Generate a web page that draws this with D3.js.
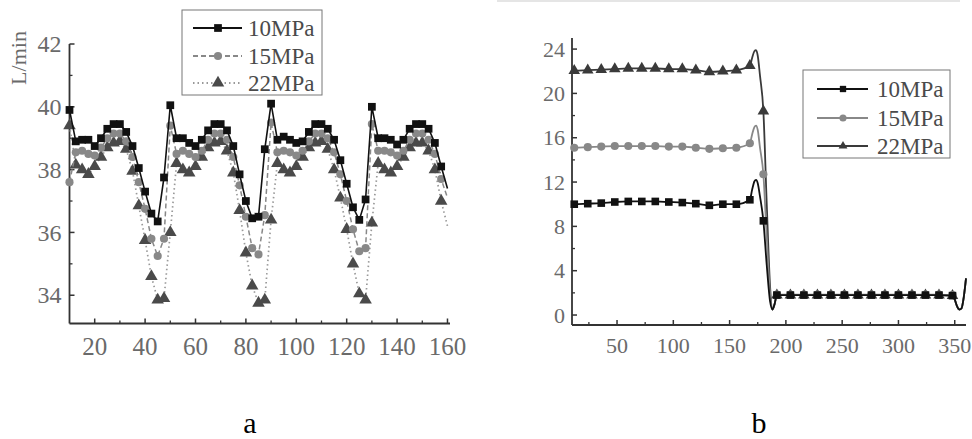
<!DOCTYPE html>
<html>
<head>
<meta charset="utf-8">
<script src="https://cdn.jsdelivr.net/npm/d3@7"></script>
<style>
  body { margin: 0; background: #fff; }
  svg { display: block; }
  text { font-family: "Liberation Serif", "Times New Roman", serif; }
</style>
</head>
<body>
<svg id="fig" width="972" height="439"></svg>
<script>
// ---------- data ----------
const seriesNames = ["10MPa", "15MPa", "22MPa"];

// Panel a: flow rate (L/min), sampled every 2.5 time units from 10 to 160
const timeA = d3.range(10, 160.01, 2.5);
const flowA10 = [
  39.9, 38.9, 38.95, 38.95, 38.75, 39.0, 39.3, 39.45, 39.45, 39.2, 38.75, 38.05, 37.3, 36.6, 36.35, 37.75, 40.05,
  39.0, 39.0, 38.85, 38.75, 38.95, 39.25, 39.45, 39.45, 39.25, 38.75, 37.85, 37.0, 36.45, 36.5, 38.65, 40.1,
  38.95, 39.05, 38.95, 38.85, 38.9, 39.2, 39.45, 39.45, 39.3, 38.95, 38.3, 37.55, 36.8, 36.4, 37.05, 40.0,
  39.0, 39.0, 38.95, 38.8, 38.95, 39.3, 39.45, 39.45, 39.3, 38.85, 38.1, 37.4
];
const flowA15 = [
  37.6, 38.55, 38.6, 38.5, 38.45, 38.7, 39.0, 39.15, 39.15, 38.9, 38.4, 37.6, 36.75, 35.8, 35.25, 35.8, 39.4,
  38.5, 38.6, 38.5, 38.4, 38.6, 38.95, 39.15, 39.15, 38.95, 38.4, 37.5, 36.5, 35.5, 35.3, 36.55, 39.5,
  38.55, 38.6, 38.55, 38.45, 38.6, 38.9, 39.15, 39.15, 39.0, 38.55, 37.85, 37.0, 36.1, 35.4, 35.5, 39.45,
  38.6, 38.6, 38.55, 38.45, 38.6, 38.95, 39.15, 39.15, 38.95, 38.5, 37.7, 37.1
];
const flowA22 = [
  39.4, 38.15, 38.0, 37.85, 38.1, 38.4, 38.7, 38.85, 38.9, 38.65, 37.95, 36.85, 35.75, 34.6, 33.85, 33.9, 36.0,
  38.2, 38.0, 37.9, 38.1, 38.4, 38.7, 38.85, 38.9, 38.6, 37.9, 36.7, 35.35, 34.3, 33.75, 33.85, 36.4,
  38.2, 38.0, 37.9, 38.1, 38.4, 38.7, 38.85, 38.9, 38.65, 38.0, 37.1, 36.1, 35.0, 34.05, 33.85, 36.3,
  38.2, 38.0, 37.9, 38.1, 38.4, 38.7, 38.85, 38.85, 38.6, 38.0, 37.0, 36.2
];
const yTicksA = [34, 36, 38, 40, 42];
const xTicksA = [20, 40, 60, 80, 100, 120, 140, 160];

// Panel b: output level, markers every 12 time units
const timeB = d3.range(12, 348.01, 12);
const levelB10 = [
  10.0, 10.05, 10.1, 10.2, 10.25, 10.25, 10.25, 10.2, 10.15, 10.05, 9.9, 10.0, 10.0, 10.4, 8.5,
  1.8, 1.8, 1.8, 1.8, 1.8, 1.8, 1.8, 1.8, 1.8, 1.8, 1.8, 1.8, 1.8, 1.75
];
const levelB15 = [
  15.1, 15.15, 15.2, 15.25, 15.25, 15.25, 15.25, 15.2, 15.2, 15.1, 15.0, 15.05, 15.1, 15.5, 12.7,
  1.85, 1.85, 1.85, 1.85, 1.85, 1.85, 1.85, 1.85, 1.85, 1.85, 1.85, 1.85, 1.85, 1.8
];
const levelB22 = [
  22.05, 22.1, 22.15, 22.2, 22.25, 22.25, 22.25, 22.2, 22.2, 22.1, 21.95, 22.0, 22.1, 22.5, 18.4,
  1.8, 1.8, 1.8, 1.8, 1.8, 1.8, 1.8, 1.8, 1.8, 1.8, 1.8, 1.8, 1.8, 1.75
];
// transient points of the continuous response between the markers [time, value]
const curveB10 = [[10, 10.0], [170, 11.3], [172, 12.05], [173.5, 12.2], [175, 11.9], [177, 10.7],
  [183, 4.5], [186, 1.2], [188, 0.5], [190, 1.0], [350, 1.4], [352, 0.8], [354, 0.5], [356, 0.6], [358, 1.6], [360, 3.3]];
const curveB15 = [[10, 15.05], [170, 16.3], [172, 16.95], [173.5, 17.1], [175, 16.7], [177, 15.1],
  [183, 7.0], [186, 1.8], [188, 0.55], [190, 1.0], [350, 1.4], [352, 0.8], [354, 0.5], [356, 0.6], [358, 1.6], [360, 3.3]];
const curveB22 = [[10, 22.0], [170, 23.2], [172, 23.8], [173.5, 23.9], [175, 23.4], [177, 21.6],
  [183, 10.0], [186, 2.5], [188, 0.5], [190, 1.0], [350, 1.4], [352, 0.8], [354, 0.5], [356, 0.6], [358, 1.6], [360, 3.3]];
const yTicksB = [0, 4, 8, 12, 16, 20, 24];
const xTicksB = [50, 100, 150, 200, 250, 300, 350];

// ---------- drawing ----------
const svg = d3.select("#fig");
const axisColor = "#333";
const labelColor = "#6a6a6a";

function drawAxes(g, x, y, xMajor, xMinor, yMajor, yMinor, fontX, fontY, xLabelY, yLabelGap) {
  const [x0, x1] = x.range();
  const [yb, yt] = y.range();
  g.append("line").attr("x1", x0).attr("x2", x0).attr("y1", yt).attr("y2", yb)
    .attr("stroke", axisColor).attr("stroke-width", 1.8);
  g.append("line").attr("x1", x0).attr("x2", x1).attr("y1", yb).attr("y2", yb)
    .attr("stroke", axisColor).attr("stroke-width", 1.8);
  // inward ticks
  g.selectAll(null).data(xMajor).join("line")
    .attr("x1", d => x(d)).attr("x2", d => x(d)).attr("y1", yb).attr("y2", yb - 5)
    .attr("stroke", axisColor).attr("stroke-width", 1.5);
  g.selectAll(null).data(xMinor).join("line")
    .attr("x1", d => x(d)).attr("x2", d => x(d)).attr("y1", yb).attr("y2", yb - 3)
    .attr("stroke", axisColor).attr("stroke-width", 1.3);
  g.selectAll(null).data(yMajor).join("line")
    .attr("x1", x0).attr("x2", x0 + 5).attr("y1", d => y(d)).attr("y2", d => y(d))
    .attr("stroke", axisColor).attr("stroke-width", 1.5);
  g.selectAll(null).data(yMinor).join("line")
    .attr("x1", x0).attr("x2", x0 + 3).attr("y1", d => y(d)).attr("y2", d => y(d))
    .attr("stroke", axisColor).attr("stroke-width", 1.3);
  g.selectAll(null).data(xMajor).join("text")
    .attr("x", d => x(d)).attr("y", xLabelY)
    .attr("text-anchor", "middle").attr("font-size", fontX).attr("fill", labelColor)
    .text(d => d);
  g.selectAll(null).data(yMajor).join("text")
    .attr("x", x0 - yLabelGap).attr("y", d => y(d)).attr("dy", "0.34em")
    .attr("text-anchor", "end").attr("font-size", fontY).attr("fill", labelColor)
    .text(d => d);
}

function drawMarker(g, type, cx, cy, fill, size) {
  const sym = { sq: d3.symbolSquare, ci: d3.symbolCircle, tr: d3.symbolTriangle }[type];
  g.append("path")
    .attr("d", d3.symbol(sym, size)())
    .attr("transform", `translate(${cx},${cy})`)
    .attr("fill", fill);
}

// ===== Panel a =====
const xA = d3.scaleLinear().domain([10, 161]).range([69.5, 450]);
const yA = d3.scaleLinear().domain([33.1, 42]).range([323.5, 44]);
const gA = svg.append("g");

drawAxes(gA, xA, yA, xTicksA, d3.range(30, 151, 20), yTicksA, [35, 37, 39, 41], 25, 24, 355, 8);

gA.append("text")
  .attr("transform", `translate(19,58) rotate(-90)`)
  .attr("text-anchor", "middle").attr("dy", "0.34em")
  .attr("font-size", 22).attr("fill", labelColor).text("L/min");

const styleA = [
  { values: flowA10, stroke: "#111", dash: null, width: 1.6, mark: "sq", fill: "#111", size: 60 },
  { values: flowA15, stroke: "#888", dash: "5,3", width: 1.5, mark: "ci", fill: "#888", size: 52 },
  { values: flowA22, stroke: "#999", dash: "1.5,3", width: 1.7, mark: "tr", fill: "#4a4a4a", size: 68 }
];
const lineA = d3.line().x(d => xA(d[0])).y(d => yA(d[1]));

[2, 1, 0].forEach(i => {
  const s = styleA[i];
  const pts = timeA.map((t, k) => [t, s.values[k]]);
  gA.append("path").datum(pts).attr("d", lineA)
    .attr("fill", "none").attr("stroke", s.stroke).attr("stroke-width", s.width)
    .attr("stroke-dasharray", s.dash);
  pts.slice(0, -1).forEach(p => drawMarker(gA, s.mark, xA(p[0]), yA(p[1]), s.fill, s.size));
});

// legend a
const legA = gA.append("g");
legA.append("rect").attr("x", 182).attr("y", 10).attr("width", 140).attr("height", 85)
  .attr("fill", "#fff").attr("stroke", "#777").attr("stroke-width", 1);
const legAy = [28, 56, 83];
styleA.forEach((s, i) => {
  legA.append("line").attr("x1", 193).attr("x2", 242).attr("y1", legAy[i]).attr("y2", legAy[i])
    .attr("stroke", s.stroke).attr("stroke-width", s.width + 0.4).attr("stroke-dasharray", s.dash);
  drawMarker(legA, s.mark, 218, legAy[i], s.fill, s.size);
  legA.append("text").attr("x", 248).attr("y", legAy[i]).attr("dy", "0.34em")
    .attr("font-size", 23).attr("fill", "#4a4a4a").text(seriesNames[i]);
});

// ===== Panel b =====
svg.append("line").attr("x1", 497).attr("x2", 960).attr("y1", 1).attr("y2", 1)
  .attr("stroke", "#ddd").attr("stroke-width", 1.5);

const xB = d3.scaleLinear().domain([10, 360]).range([572, 966]);
const yB = d3.scaleLinear().domain([-0.9, 25]).range([325, 38]);
const gB = svg.append("g");

drawAxes(gB, xB, yB, xTicksB, d3.range(25, 351, 50), yTicksB, d3.range(2, 23, 4), 22, 22, 353, 7);

const styleB = [
  { values: levelB10, curve: curveB10, stroke: "#111", mark: "sq", fill: "#111", size: 58 },
  { values: levelB15, curve: curveB15, stroke: "#888", mark: "ci", fill: "#888", size: 52 },
  { values: levelB22, curve: curveB22, stroke: "#3a3a3a", mark: "tr", fill: "#3a3a3a", size: 58 }
];
const lineB = d3.line().x(d => xB(d[0])).y(d => yB(d[1])).curve(d3.curveMonotoneX);

[2, 1, 0].forEach(i => {
  const s = styleB[i];
  const marks = timeB.map((t, k) => [t, s.values[k]]);
  const pts = marks.concat(s.curve).sort((a, b) => a[0] - b[0]);
  gB.append("path").datum(pts).attr("d", lineB)
    .attr("fill", "none").attr("stroke", s.stroke).attr("stroke-width", 1.8);
  marks.forEach(p => drawMarker(gB, s.mark, xB(p[0]), yB(p[1]), s.fill, s.size));
});

// legend b
const legB = gB.append("g");
legB.append("rect").attr("x", 803).attr("y", 70).attr("width", 147).attr("height", 88)
  .attr("fill", "#fff").attr("stroke", "#777").attr("stroke-width", 1);
const legBy = [89, 118, 146];
styleB.forEach((s, i) => {
  legB.append("line").attr("x1", 817).attr("x2", 868).attr("y1", legBy[i]).attr("y2", legBy[i])
    .attr("stroke", s.stroke).attr("stroke-width", 2);
  drawMarker(legB, s.mark, 843, legBy[i], s.fill, i === 2 ? 34 : 40);
  legB.append("text").attr("x", 877).attr("y", legBy[i]).attr("dy", "0.34em")
    .attr("font-size", 23).attr("fill", "#4a4a4a").text(seriesNames[i]);
});

// panel letters
svg.append("text").attr("x", 250).attr("y", 433).attr("text-anchor", "middle")
  .attr("font-size", 30).attr("fill", "#000").text("a");
svg.append("text").attr("x", 759).attr("y", 433).attr("text-anchor", "middle")
  .attr("font-size", 30).attr("fill", "#000").text("b");
</script>
</body>
</html>
